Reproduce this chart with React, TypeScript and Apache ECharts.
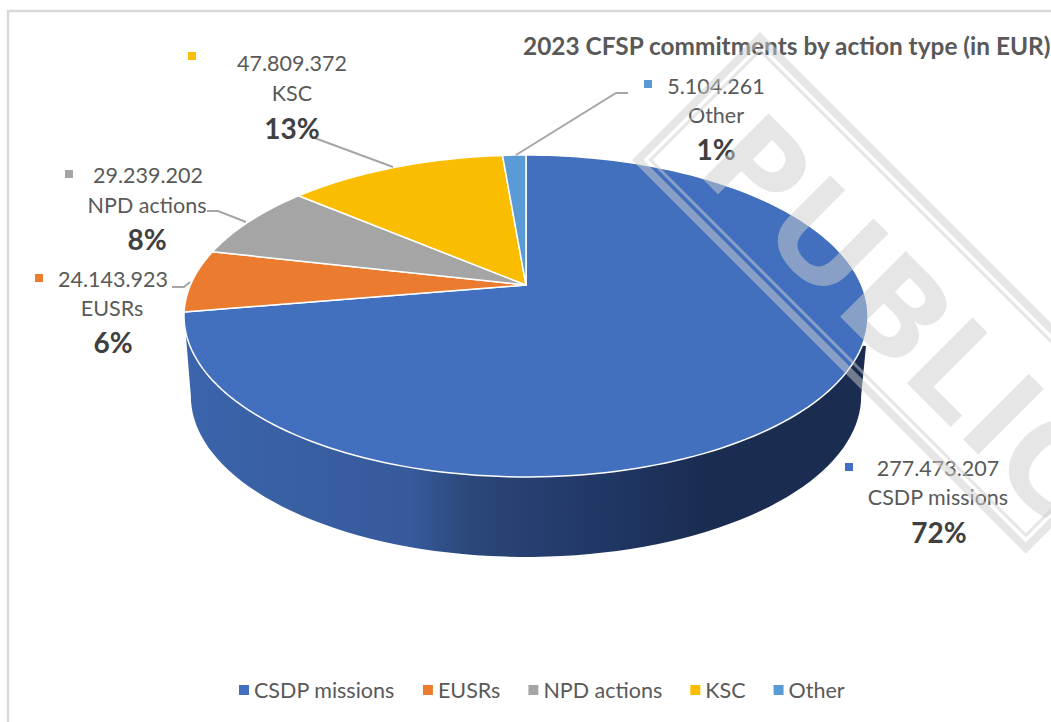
import React, { useEffect, useRef } from "react";
import * as echarts from "echarts";

const categories = ["CSDP missions", "EUSRs", "NPD actions", "KSC", "Other"];
const values = [277473207, 24143923, 29239202, 47809372, 5104261];
const percentLabels = ["72%", "6%", "8%", "13%", "1%"];
const palette = ["#4270BF", "#EB7B2F", "#A5A5A5", "#FBBD00", "#5B9BD5"];
const titleText = "2023 CFSP commitments by action type (in EUR)";
const watermarkText = "PUBLIC";

const FONT = "Lato";
const total = values.reduce((a, b) => a + b, 0);
const startValues = values.map((_, i) => values.slice(0, i).reduce((a, b) => a + b, 0));
const formatValue = (v: number) => String(v).replace(/\B(?=(\d{3})+$)/g, ".");

// perspective view of the round pie top
const CX = 526;
const APEX_Y = 285;
const A = 335.6;
const B = 155;
const K = -0.1925;
const DEPTH = 80;
const BOTTOM_SCALE = 0.98;

function project(deg: number): [number, number] {
  const t = (deg * Math.PI) / 180;
  const u = Math.sin(t);
  const v = -Math.cos(t);
  const d = 1 + K * v;
  return [CX + (A * u) / d, APEX_Y + (B * v) / d];
}

const labelLayout = [
  { marker: [845, 463], value: [938, 468], name: [938, 497], pct: [939, 532], line: [] as number[][] },
  { marker: [35, 274], value: [113, 279], name: [112, 308], pct: [113, 342], line: [[172, 287], [184, 287], [190, 282]] },
  { marker: [65, 170], value: [148, 175], name: [147, 205], pct: [147, 239], line: [[207, 211], [218, 211], [246, 222]] },
  { marker: [188, 52], value: [292, 63], name: [292, 93], pct: [292, 128], line: [[312, 137], [393, 167]] },
  { marker: [644, 80], value: [716, 86], name: [716, 115], pct: [716, 149], line: [[628, 93], [616, 93], [516, 155]] },
];

function renderSlice(params: any, api: any) {
  const i = params.seriesIndex;
  const color = api.visual("color");
  const start = (startValues[i] / total) * 360;
  const sweep = (api.value(0) / total) * 360;
  const pts: number[][] = [[CX, APEX_Y]];
  const steps = Math.max(4, Math.ceil(sweep / 1.5));
  for (let s = 0; s <= steps; s++) pts.push(project(start + (sweep * s) / steps));

  const children: any[] = [];
  if (i === 0) {
    const wall: number[][] = [];
    for (let d = 101; d <= 259; d += 2) {
      const [x, y] = project(d);
      wall.push([CX + (x - CX) * BOTTOM_SCALE, y + DEPTH]);
    }
    wall.push([186, 337], [CX, 316], [866, 346]);
    children.push({
      type: "polygon",
      shape: { points: wall },
      style: {
        fill: new echarts.graphic.LinearGradient(0, 0, 1, 0, [
          { offset: 0, color: "#3B64AB" },
          { offset: 0.33, color: "#365A9B" },
          { offset: 0.42, color: "#2B4679" },
          { offset: 0.64, color: "#1F3562" },
          { offset: 0.76, color: "#1A2C50" },
          { offset: 1, color: "#1A2C50" },
        ]),
      },
    });
  }
  children.push({
    type: "polygon",
    shape: { points: pts },
    style: { fill: color, stroke: "#FFFFFF", lineWidth: 1.5, lineJoin: "round" },
  });
  const l = labelLayout[i];
  if (l.line.length) {
    children.push({
      type: "polyline",
      shape: { points: l.line },
      style: { fill: "none", stroke: "#A6A6A6", lineWidth: 2 },
    });
  }
  children.push({
    type: "rect",
    shape: { x: l.marker[0], y: l.marker[1], width: 8, height: 8 },
    style: { fill: color },
  });
  const txt = (s: string, p: number[], size: number, weight: string, fill: string) => ({
    type: "text",
    x: p[0],
    y: p[1],
    style: { text: s, fontFamily: FONT, fontSize: size, fontWeight: weight, fill, align: "center", verticalAlign: "middle" },
  });
  children.push(txt(formatValue(api.value(0)), l.value, 21.5, "normal", "#595959"));
  children.push(txt(categories[i], l.name, 21.5, "normal", "#595959"));
  children.push(txt(percentLabels[i], l.pct, 28, "bold", "#404040"));
  return { type: "group", children };
}

const WM = "rgba(206,206,206,0.5)";
function renderWatermark() {
  return {
    type: "group",
    x: 632,
    y: 160,
    rotation: -Math.PI / 4,
    children: [
      {
        type: "rect",
        shape: { x: 4, y: -177, width: 549, height: 173 },
        style: { fill: "none", stroke: WM, lineWidth: 8, lineJoin: "miter" },
      },
      {
        type: "rect",
        shape: { x: 13, y: -168, width: 531, height: 155 },
        style: { fill: "none", stroke: WM, lineWidth: 3, lineJoin: "miter" },
      },
      {
        type: "text",
        x: 51,
        y: -22,
        scaleX: 1.08,
        style: {
          text: watermarkText,
          fontFamily: "Open Sans",
          fontSize: 130,
          fontWeight: "bold",
          fill: WM,
          align: "left",
          verticalAlign: "bottom",
        },
      },
    ],
  };
}

export default function App() {
  const ref = useRef<HTMLDivElement>(null);
  useEffect(() => {
    const chart = echarts.init(ref.current!, undefined, { renderer: "svg" });
    chart.setOption({
      animation: false,
      color: palette,
      backgroundColor: "#FFFFFF",
      title: {
        text: titleText,
        left: 523,
        top: 33,
        textStyle: { fontFamily: FONT, fontSize: 24.4, fontWeight: "bold", color: "#595959" },
        padding: 0,
      },
      legend: {
        data: categories,
        left: 234,
        top: 674,
        icon: "rect",
        itemWidth: 10,
        itemHeight: 10,
        itemGap: 28,
        selectedMode: false,
        textStyle: { fontFamily: FONT, fontSize: 21.5, color: "#595959" },
      },
      graphic: [
        {
          type: "rect",
          shape: { x: 8, y: 11, width: 1300, height: 1000 },
          style: { fill: "none", stroke: "#D9D9D9", lineWidth: 2.5 },
        },
      ],
      series: [
        ...categories.map((name, i) => ({
          type: "custom",
          name,
          coordinateSystem: "none",
          renderItem: renderSlice,
          data: [[values[i]]],
          silent: true,
        })),
        {
          type: "custom",
          name: "watermark",
          coordinateSystem: "none",
          renderItem: renderWatermark,
          data: [[0]],
          silent: true,
          z: 20,
        },
      ],
    });
    return () => chart.dispose();
  }, []);
  return <div ref={ref} style={{ position: "fixed", left: 0, top: 0, width: 1051, height: 722 }} />;
}
